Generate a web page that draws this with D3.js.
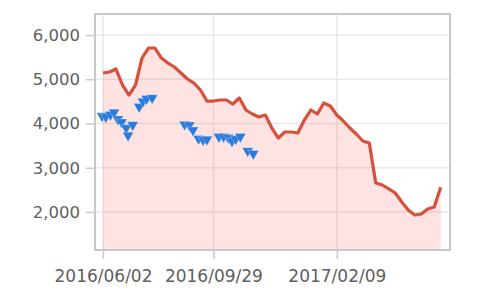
<!DOCTYPE html>
<html>
<head>
<meta charset="utf-8">
<script src="https://cdn.jsdelivr.net/npm/d3@7"></script>
<style>
  html, body { margin: 0; padding: 0; background: #fff; }
  svg { display: block; }
</style>
</head>
<body>
<svg id="chart" width="500" height="297"></svg>
<script>
// ---- data ----
const lineStart = "2016-06-02";
const lineValues = [
  5141, 5164, 5232, 4870, 4644, 4870, 5480, 5706, 5706, 5480,
  5367, 5277, 5141, 5006, 4915, 4757, 4508, 4508, 4531, 4531,
  4440, 4576, 4305, 4215, 4147, 4192, 3898, 3672, 3808, 3808,
  3785, 4079, 4305, 4215, 4463, 4395, 4192, 4056, 3898, 3763,
  3604, 3559, 2655, 2610, 2520, 2429, 2226, 2045, 1932, 1955,
  2068, 2113, 2560
];
const markerDates = [
  "2016-06-01", "2016-06-05", "2016-06-10", "2016-06-14", "2016-06-18",
  "2016-06-22", "2016-06-27", "2016-06-29", "2016-07-04", "2016-07-11",
  "2016-07-15", "2016-07-19", "2016-07-25", "2016-08-29", "2016-09-03",
  "2016-09-07", "2016-09-13", "2016-09-18", "2016-09-22", "2016-10-05",
  "2016-10-10", "2016-10-15", "2016-10-19", "2016-10-23", "2016-10-28",
  "2016-11-05", "2016-11-11"
];
const markerValues = [
  4170, 4150, 4200, 4250, 4100, 4030, 3900, 3730, 3970, 4380,
  4500, 4560, 4580, 3980, 3960, 3850, 3660, 3630, 3640, 3700,
  3700, 3680, 3600, 3650, 3700, 3380, 3320
];
const xTickLabels = ["2016/06/02", "2016/09/29", "2017/02/09"];
const yTickValues = [2000, 3000, 4000, 5000, 6000];
const xDomain = ["2016-05-24T09:00:00Z", "2017-06-11T00:00:00Z"];
const yDomain = [1141, 6475];

// ---- layout ----
const plot = { left: 95, right: 450, top: 14, bottom: 250 };
const parse = d3.utcParse("%Y-%m-%d");
const parseTick = d3.utcParse("%Y/%m/%d");
const fmtTick = d3.utcFormat("%Y/%m/%d");

const lineData = lineValues.map((v, i) => ({ date: d3.utcDay.offset(parse(lineStart), 7 * i), value: v }));
const markerData = markerDates.map((d, i) => ({ date: parse(d), value: markerValues[i] }));
const xTicks = xTickLabels.map(parseTick);

const x = d3.scaleUtc().domain(xDomain.map(d => new Date(d))).range([plot.left, plot.right]);
const y = d3.scaleLinear().domain(yDomain).range([plot.bottom, plot.top]);

const svg = d3.select("#chart");

// grid
const grid = svg.append("g");
grid.selectAll("line.h").data(yTickValues).join("line")
  .attr("x1", plot.left).attr("x2", plot.right)
  .attr("y1", d => y(d)).attr("y2", d => y(d))
  .attr("stroke", "#e9e9e9").attr("stroke-width", 1.5);
grid.selectAll("line.v").data(xTicks).join("line")
  .attr("y1", plot.top).attr("y2", plot.bottom)
  .attr("x1", d => x(d)).attr("x2", d => x(d))
  .attr("stroke", "#e9e9e9").attr("stroke-width", 1.5);

// area
const area = d3.area().x(d => x(d.date)).y0(plot.bottom).y1(d => y(d.value));
svg.append("path").datum(lineData).attr("d", area)
  .attr("fill", "#fc3a30").attr("fill-opacity", 0.14);

// line
const line = d3.line().x(d => x(d.date)).y(d => y(d.value));
svg.append("path").datum(lineData).attr("d", line)
  .attr("fill", "none").attr("stroke", "#d6503c").attr("stroke-width", 3.2)
  .attr("stroke-linejoin", "round");

// markers
const sym = d3.symbol().type(d3.symbolTriangle).size(52);
svg.append("g").selectAll("path").data(markerData).join("path")
  .attr("d", sym)
  .attr("transform", d => `translate(${x(d.date)},${y(d.value)}) rotate(180)`)
  .attr("fill", "#2b7bdc").attr("stroke", "#ffffff").attr("stroke-width", 0.4).attr("stroke-opacity", 0.6);

// frame
svg.append("rect")
  .attr("x", plot.left).attr("y", plot.top)
  .attr("width", plot.right - plot.left).attr("height", plot.bottom - plot.top)
  .attr("fill", "none").attr("stroke", "#c8c8c8").attr("stroke-width", 2);

// axes
const yAxis = d3.axisLeft(y).tickValues(yTickValues).tickFormat(d3.format(",")).tickSize(9).tickPadding(6);
const gy = svg.append("g").attr("transform", `translate(${plot.left},0)`).call(yAxis);
gy.select(".domain").remove();
gy.selectAll(".tick line").attr("stroke", "#c8c8c8").attr("stroke-width", 1.5);
gy.selectAll(".tick text").attr("fill", "#606060")
  .style("font-family", "'DejaVu Sans', sans-serif").style("font-size", "16.5px");

const xAxis = d3.axisBottom(x).tickValues(xTicks).tickFormat(fmtTick).tickSize(9).tickPadding(11);
const gx = svg.append("g").attr("transform", `translate(0,${plot.bottom})`).call(xAxis);
gx.select(".domain").remove();
gx.selectAll(".tick line").attr("stroke", "#c8c8c8").attr("stroke-width", 1.5);
gx.selectAll(".tick text").attr("fill", "#606060")
  .style("font-family", "'DejaVu Sans', sans-serif").style("font-size", "17px");
</script>
</body>
</html>
